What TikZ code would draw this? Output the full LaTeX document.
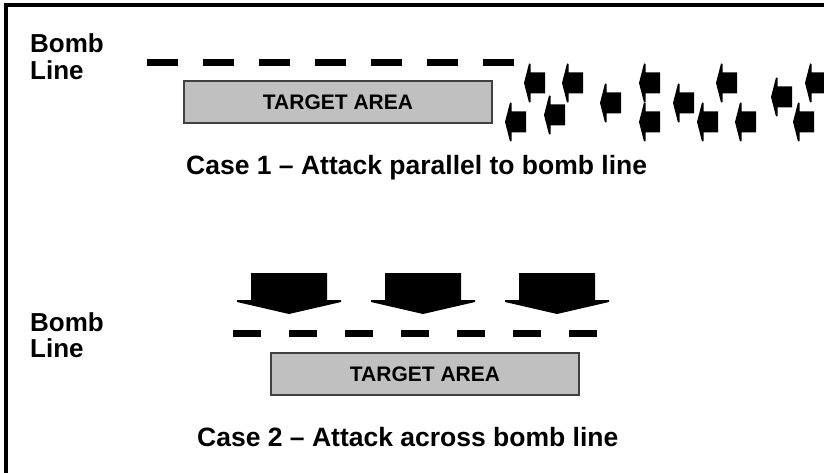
\documentclass[tikz,border=0pt]{standalone}
\usepackage{fontspec}
\setmainfont{Liberation Sans}
\definecolor{targetgray}{RGB}{192,192,192}
\begin{document}
\begin{tikzpicture}[x=1pt,y=-1pt,
  lbl/.style={font=\bfseries\fontsize{26}{26.5}\selectfont, inner sep=0pt, align=left, anchor=north west},
  captext/.style={font=\bfseries\fontsize{26.5}{30}\selectfont, inner sep=0pt, anchor=base west},
  target/.style={draw=black!75, line width=1.2pt, fill=targetgray, minimum width=308pt, minimum height=42pt, inner sep=0pt, font=\bfseries\fontsize{21}{24}\selectfont},
  bombline/.style={line width=7pt},
  frameline/.style={line width=4pt},
  larrow/.pic={\fill (0,0) -- (5,-19.5) -- (6.5,-19) -- (6.5,-10.5) -- (21,-10.5) -- (21,10.5) -- (6.5,10.5) -- (6.5,19) -- (5,19.5) -- cycle;},
  darrow/.pic={\fill (-38,-41) -- (38,-41) -- (38,-14) -- (52,-14) -- (52,-12) -- (0,0) -- (-52,-12) -- (-52,-14) -- (-38,-14) -- cycle;}
]
\useasboundingbox (0,0) rectangle (824,473);
% frame (top and left edges only)
\coordinate (fbl) at (6,480);
\coordinate (ftl) at (6,5.3);
\coordinate (ftr) at (830,5.3);
\draw[frameline] (fbl) -- (ftl) -- (ftr);

% Case 1
\node[lbl] (bomb1) at (30,33.9) {Bomb\\Line};
\coordinate (bl1s) at (147,63);
\coordinate (bl1e) at (514,63);
\draw[bombline, dash pattern=on 31pt off 25pt] (bl1s) -- (bl1e);
\node[target] (target1) at (338,102) {TARGET AREA};
\foreach \ax/\ay in {505/122, 524/83, 544/115, 562/83, 600/103, 639/83, 639/122, 673/103, 697/122, 716/83, 735/122, 771/97, 793/122, 805/83}
  \pic at (\ax,\ay) {larrow};
\node[captext] (cap1) at (186,175) {Case 1 – Attack parallel to bomb line};

% Case 2
\foreach \cx in {289,423,557}
  \pic at (\cx,314) {darrow};
\node[lbl] (bomb2) at (30,312.4) {Bomb\\Line};
\coordinate (bl2s) at (233,333.5);
\coordinate (bl2e) at (597,333.5);
\draw[bombline, dash pattern=on 28pt off 28pt] (bl2s) -- (bl2e);
\node[target] (target2) at (425,374) {TARGET AREA};
\node[captext] (cap2) at (197,446) {Case 2 – Attack across bomb line};
\end{tikzpicture}
\end{document}
